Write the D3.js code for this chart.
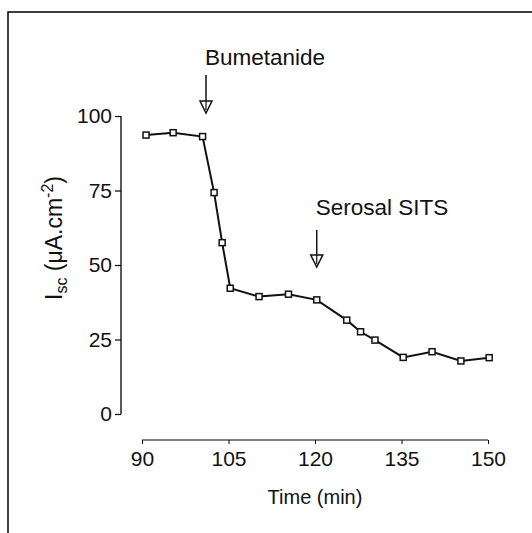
<!DOCTYPE html>
<html>
<head>
<meta charset="utf-8">
<script src="https://cdn.jsdelivr.net/npm/d3@7"></script>
<style>
  body { margin: 0; background: #fff; }
  svg { font-family: 'Liberation Sans', Arial, sans-serif; }
</style>
</head>
<body>
<div id="chart"></div>
<script>
// time points (min) and short-circuit current (uA/cm2)
const times = [90.7, 95.4, 100.5, 102.5, 103.9, 105.3, 110.3, 115.4, 120.3, 125.5, 127.9, 130.4, 135.3, 140.3, 145.3, 150.2]
const isc = [93.6, 94.4, 93.1, 74.3, 57.5, 42.2, 39.4, 40.2, 38.3, 31.5, 27.6, 24.8, 19.0, 20.9, 17.8, 18.9]
const xTicks = [90, 105, 120, 135, 150]
const yTicks = [0, 25, 50, 75, 100]
const addNames = ['Bumetanide', 'Serosal SITS']
const addTimes = [101.1, 120.3]

const width = 532
const height = 533

const svg = d3.select('#chart')
  .append('svg')
  .attr('width', width)
  .attr('height', height)

// frame (scanned page edge)
svg.append('path')
  .attr('d', 'M8,533V12H532')
  .attr('fill', 'none')
  .attr('stroke', '#000')
  .attr('stroke-width', 1.5)

const x = d3.scaleLinear().domain([90, 150]).range([142, 488])
const y = d3.scaleLinear().domain([0, 100]).range([414, 116])

// y axis
const yAxis = svg.append('g')
  .attr('transform', 'translate(121,0)')
  .call(d3.axisLeft(y).tickValues(yTicks).tickSize(6).tickPadding(3))
yAxis.select('.domain').attr('d', 'M0,' + y(100) + 'V' + y(0)).attr('stroke-width', 1.3)
yAxis.selectAll('.tick line').attr('stroke-width', 1.2)
yAxis.selectAll('.tick text')
  .attr('font-size', 21)
  .attr('font-family', 'Liberation Sans, Arial, sans-serif')
  .attr('fill', '#111')

// x axis (detached, ticks pointing down)
const xAxis = svg.append('g')
  .attr('transform', 'translate(0,440)')
  .call(d3.axisBottom(x).tickValues(xTicks).tickSize(4).tickPadding(7))
xAxis.select('.domain').attr('d', 'M' + x(90) + ',0H' + x(150)).attr('stroke-width', 1.2)
xAxis.selectAll('.tick text')
  .attr('font-size', 21)
  .attr('font-family', 'Liberation Sans, Arial, sans-serif')
  .attr('fill', '#111')

svg.append('text')
  .attr('x', (x(90) + x(150)) / 2)
  .attr('y', 504)
  .attr('text-anchor', 'middle')
  .attr('font-size', 20)
  .attr('fill', '#111')
  .text('Time (min)')

// y label
const yl = svg.append('text')
  .attr('transform', 'translate(62,238) rotate(-90)')
  .attr('text-anchor', 'middle')
  .attr('font-size', 23)
  .attr('fill', '#111')
yl.append('tspan').text('I')
yl.append('tspan').attr('font-size', 16).attr('dy', 5).text('sc')
yl.append('tspan').attr('dy', -5).text(' (\u03bcA.cm')
yl.append('tspan').attr('font-size', 16).attr('dy', -9).text('-2')
yl.append('tspan').attr('dy', 9).text(')')

// data line + open square markers
const line = d3.line()
  .x((d, i) => x(times[i]))
  .y(d => y(d))

svg.append('path')
  .datum(isc)
  .attr('d', line)
  .attr('fill', 'none')
  .attr('stroke', '#111')
  .attr('stroke-width', 2)

svg.append('g')
  .selectAll('rect')
  .data(isc)
  .enter()
  .append('rect')
  .attr('x', (d, i) => x(times[i]) - 3)
  .attr('y', d => y(d) - 3)
  .attr('width', 6)
  .attr('height', 6)
  .attr('fill', '#fff')
  .attr('stroke', '#111')
  .attr('stroke-width', 1.5)

// addition arrows
const labelY = [65, 215]
const arrowTop = [75, 230]
const arrowTip = [113, 267]

addNames.forEach(function (name, i) {
  const ax = x(addTimes[i])
  svg.append('text')
    .attr('x', ax - 1)
    .attr('y', labelY[i])
    .attr('font-size', 22.5)
    .attr('fill', '#111')
    .text(name)
  svg.append('line')
    .attr('x1', ax).attr('x2', ax)
    .attr('y1', arrowTop[i]).attr('y2', arrowTip[i] - 12)
    .attr('stroke', '#111')
    .attr('stroke-width', 1.5)
  svg.append('path')
    .attr('d', 'M' + (ax - 6) + ',' + (arrowTip[i] - 12) + 'H' + (ax + 6) + 'L' + ax + ',' + arrowTip[i] + 'Z')
    .attr('fill', '#fff')
    .attr('stroke', '#111')
    .attr('stroke-width', 1.5)
  svg.append('line')
    .attr('x1', ax).attr('x2', ax)
    .attr('y1', arrowTip[i] - 12).attr('y2', arrowTip[i] - 3)
    .attr('stroke', '#111')
    .attr('stroke-width', 1.2)
})
</script>
</body>
</html>
